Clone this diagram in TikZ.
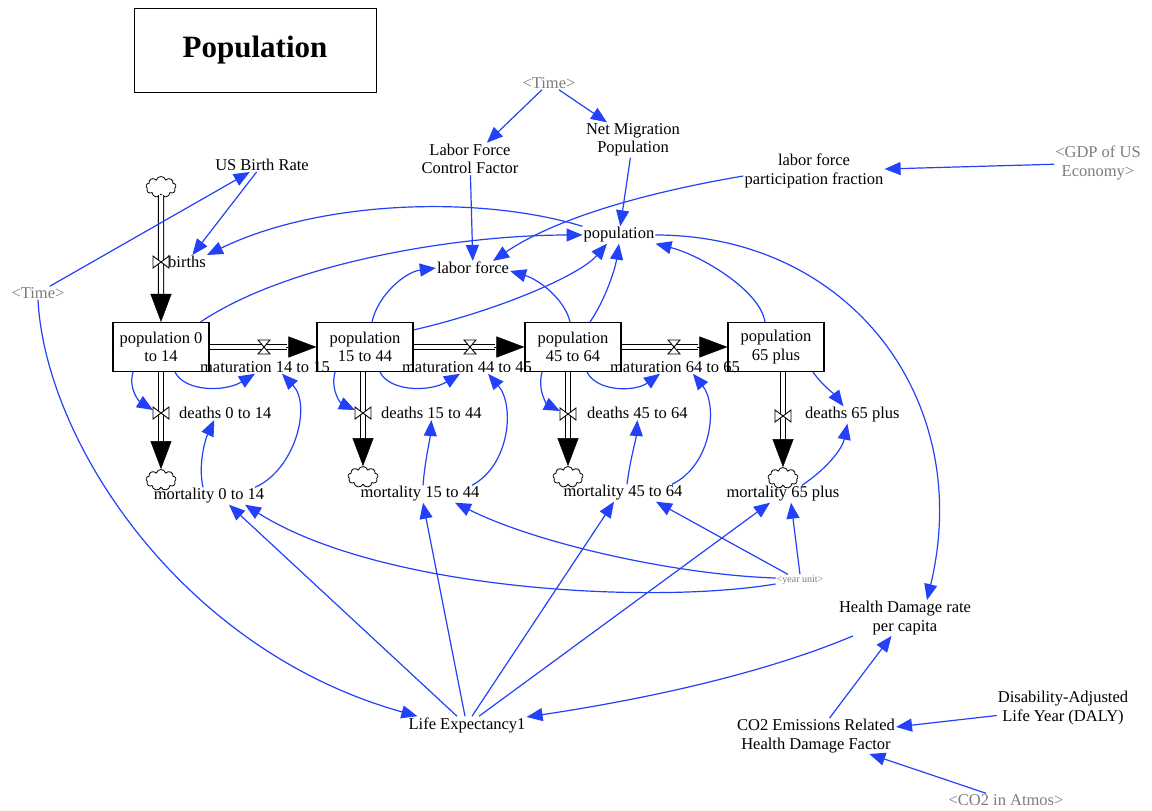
\documentclass[tikz,border=0pt]{standalone}
\usepackage{fontspec}
\setmainfont{Liberation Serif}
\usetikzlibrary{arrows.meta,shapes.symbols}
\definecolor{linkblue}{RGB}{35,65,248}
\definecolor{shadowtext}{RGB}{125,125,125}
\tikzset{
 lbl/.style={inner sep=1pt, font=\fontsize{16.5}{18.5}\selectfont, align=center, text=black},
 ghost/.style={lbl, text=shadowtext},
 stock/.style={draw=black, line width=1.1pt, fill=white, minimum width=96pt, minimum height=49pt, inner sep=1pt, font=\fontsize{16.5}{18.5}\selectfont, align=center},
 link/.style={draw=linkblue, line width=1.2pt, -{Triangle[length=16pt,width=13pt]}},
 pipe/.style={draw=black, line width=1.2pt, double=white, double distance=4pt},
 pipehead/.style={draw=black, line width=0.4pt, -{Triangle[length=28pt,width=21pt]}},
 sink/.style={cloud, draw=black, line width=0.8pt, cloud puffs=9, aspect=1.5, minimum width=30pt, minimum height=21pt, inner sep=0pt},
 hvalve/.pic={\filldraw[fill=white, draw=black, line width=0.9pt] (-6,-7) -- (6,-7) -- (-6,7) -- (6,7) -- cycle;},
 vvalve/.pic={\filldraw[fill=white, draw=black, line width=0.9pt] (-8,-6) -- (-8,6) -- (8,-6) -- (8,6) -- cycle;},
}
\begin{document}
\begin{tikzpicture}[x=1pt,y=-1pt]
\useasboundingbox[fill=white] (0,0) rectangle (1152,811);

% title
\node[draw=black, line width=1pt, minimum width=242pt, minimum height=84pt, inner sep=0pt, font=\fontsize{31}{36}\selectfont\bfseries] (title) at (255,50) {Population};

% auxiliaries
\node[ghost] (timeA) at (549,83) {<Time>};
\node[lbl] (lfcf) at (470,159) {Labor Force\\Control Factor};
\node[lbl] (nmp) at (633,140) {Net Migration\\Population};
\node[lbl] (lfpf) at (814,171) {labor force\\participation fraction};
\node[ghost] (gdp) at (1098,163) {<GDP of US\\Economy>};
\node[lbl] (usbr) at (262,165) {US Birth Rate};
\node[ghost] (timeB) at (38,293) {<Time>};
\node[lbl] (pop) at (619,235) {population};
\node[lbl] (lf) at (473,268) {labor force};

% stocks
\node[stock] (s1) at (161,347) {population 0\\to 14};
\node[stock] (s2) at (365,347) {population\\15 to 44};
\node[stock] (s3) at (573,347) {population\\45 to 64};
\node[stock] (s4) at (776,347) {population\\65 plus};

% clouds
\node[sink] (c0) at (161,187) {};
\node[sink] (c1) at (161,480) {};
\node[sink] (c2) at (363,477) {};
\node[sink] (c3) at (568,477) {};
\node[sink] (c4) at (783,478) {};

% flow labels
\node[lbl, anchor=west] (fb) at (167,262) {births};
\node[lbl] (f1) at (265,367) {maturation 14 to 15};
\node[lbl] (f2) at (467,367) {maturation 44 to 45};
\node[lbl] (f3) at (675,367) {maturation 64 to 65};
\node[lbl, anchor=west] (g1) at (178,413) {deaths 0 to 14};
\node[lbl, anchor=west] (g2) at (380,413) {deaths 15 to 44};
\node[lbl, anchor=west] (g3) at (586,413) {deaths 45 to 64};
\node[lbl, anchor=west] (g4) at (804,415) {deaths 65 plus};

% mortality etc
\node[lbl] (m1) at (209,496) {mortality 0 to 14};
\node[lbl] (m2) at (420,494) {mortality 15 to 44};
\node[lbl] (m3) at (623,493) {mortality 45 to 64};
\node[lbl] (m4) at (783,494) {mortality 65 plus};
\node[ghost, font=\fontsize{10}{12}\selectfont] (yu) at (800,580) {<year unit>};
\node[lbl] (hd) at (905,618) {Health Damage rate\\per capita};
\node[lbl] (co2) at (816,736) {CO2 Emissions Related\\Health Damage Factor};
\node[lbl] (daly) at (1063,708) {Disability-Adjusted\\Life Year (DALY)};
\node[ghost] (co2a) at (1006,800) {<CO2 in Atmos>};
\node[lbl] (le) at (467,725) {Life Expectancy1};

% pipes
\draw[pipe] (c0.south) -- ([yshift=27pt]s1.north);
\draw[pipehead] ([yshift=28pt]s1.north) -- (s1.north);
\draw[pipe] (s1.east) -- ([xshift=-29pt]s2.west);
\draw[pipehead] ([xshift=-30pt]s2.west) -- (s2.west);
\draw[pipe] (s2.east) -- ([xshift=-29pt]s3.west);
\draw[pipehead] ([xshift=-30pt]s3.west) -- (s3.west);
\draw[pipe] (s3.east) -- ([xshift=-29pt]s4.west);
\draw[pipehead] ([xshift=-30pt]s4.west) -- (s4.west);
\draw[pipe] (c1.north |- s1.south) -- ([yshift=27pt]c1.north);
\draw[pipehead] ([yshift=28pt]c1.north) -- (c1.north);
\draw[pipe] (c2.north |- s2.south) -- ([yshift=27pt]c2.north);
\draw[pipehead] ([yshift=28pt]c2.north) -- (c2.north);
\draw[pipe] (c3.north |- s3.south) -- ([yshift=27pt]c3.north);
\draw[pipehead] ([yshift=28pt]c3.north) -- (c3.north);
\draw[pipe] (c4.north |- s4.south) -- ([yshift=27pt]c4.north);
\draw[pipehead] ([yshift=28pt]c4.north) -- (c4.north);

% valves
\coordinate (vb) at (161,262);
\coordinate (v1) at (264,347);
\coordinate (v2) at (470,347);
\coordinate (v3) at (674,347);
\coordinate (vd1) at (161,413);
\coordinate (vd2) at (363,413);
\coordinate (vd3) at (568,414);
\coordinate (vd4) at (783,416);
\pic at (vb) {vvalve};
\pic at (v1) {hvalve};
\pic at (v2) {hvalve};
\pic at (v3) {hvalve};
\pic at (vd1) {vvalve};
\pic at (vd2) {vvalve};
\pic at (vd3) {vvalve};
\pic at (vd4) {vvalve};

% links top
\draw[link] (timeA) -- (lfcf);
\draw[link] (timeA) -- (nmp);
\draw[link] (lfcf) -- (lf);
\draw[link] (nmp) -- (pop);
\draw[link] ([yshift=-5pt]lfpf.west) .. controls (660,190) and (560,215) .. ([xshift=20pt]lf.north);
\draw[link] (gdp) -- (lfpf);
\draw[link] (usbr) -- (fb);
\draw[link] (timeB) -- (usbr);
\draw[link] (pop.north west) .. controls (480,195) and (320,200) .. (fb.north east);
\draw[link] ([xshift=-9pt]s1.north east) .. controls (290,262) and (460,235) .. (pop.west);
\draw[link] ([xshift=7pt]s2.north) .. controls (378,295) and (405,272) .. (lf.west);
\draw[link] ([xshift=-3pt]s3.north) .. controls (565,300) and (540,280) .. ([yshift=-3pt]lf.east);
\draw[link] ([yshift=-8pt]s2.north east) .. controls (500,310) and (580,275) .. ([xshift=-12pt]pop.south);
\draw[link] ([xshift=17pt]s3.north) .. controls (605,300) and (615,270) .. (pop.south);
\draw[link] ([xshift=-11pt]s4.north) .. controls (760,290) and (700,255) .. (pop.south east);
\draw[link] (pop.east) .. controls (850,235) and (975,400) .. ([xshift=22pt]hd.north);
\draw[link] (timeB.south) .. controls (45,440) and (180,650) .. ([xshift=10pt]le.north west);
\draw[link] ([xshift=-52pt]hd.south) .. controls (760,675) and (640,700) .. ([yshift=8pt]le.east);
\draw[link] (co2) -- (hd);
\draw[link] (daly) -- (co2);
\draw[link] (co2a) -- (co2);

% life expectancy and year unit
\draw[link] ([xshift=-10pt]le.north) -- ([xshift=20pt]m1.south);
\draw[link] ([xshift=-2pt]le.north) -- ([xshift=3pt]m2.south);
\draw[link] ([xshift=5pt]le.north) -- ([xshift=-9pt]m3.south);
\draw[link] ([xshift=12pt]le.north) -- ([xshift=-13pt]m4.south);
\draw[link] ([yshift=-4pt]yu.west) .. controls (650,605) and (380,590) .. ([xshift=36pt]m1.south);
\draw[link] ([yshift=2pt]yu.west) .. controls (680,575) and (540,545) .. ([xshift=35pt]m2.south);
\draw[link] ([xshift=-12pt]yu.north) -- ([xshift=33pt]m3.south);
\draw[link] (yu.north) -- ([xshift=8pt]m4.south);

% local loops
\draw[link] ([xshift=-28pt]s1.south) .. controls (128,390) and (140,402) .. ([xshift=-8pt,yshift=3pt]vd1);
\draw[link] ([xshift=14pt]s1.south) .. controls (185,392) and (225,392) .. ([xshift=-10pt]f1.south);
\draw[link] ([xshift=-6pt]m1.north) .. controls (198,465) and (205,440) .. ([xshift=-11pt]g1.south);
\draw[link] ([xshift=46pt]m1.north) .. controls (295,470) and (312,405) .. ([xshift=17pt]f1.south);

\draw[link] ([xshift=-30pt]s2.south) .. controls (330,392) and (342,404) .. ([xshift=-8pt,yshift=3pt]vd2);
\draw[link] ([xshift=15pt]s2.south) .. controls (390,392) and (430,392) .. ([xshift=-7pt]f2.south);
\draw[link] ([xshift=3pt]m2.north) .. controls (425,460) and (430,440) .. (g2.south);
\draw[link] ([xshift=52pt]m2.north) .. controls (510,465) and (515,405) .. ([xshift=21pt]f2.south);

\draw[link] ([xshift=-31pt]s3.south) .. controls (537,392) and (548,405) .. ([xshift=-8pt,yshift=3pt]vd3);
\draw[link] ([xshift=14pt]s3.south) .. controls (597,392) and (635,392) .. ([xshift=-15pt]f3.south);
\draw[link] ([xshift=4pt]m3.north) .. controls (630,460) and (636,440) .. (g3.south);
\draw[link] ([xshift=49pt]m3.north) .. controls (712,465) and (718,405) .. ([xshift=18pt]f3.south);

\draw[link] ([xshift=37pt]s4.south) .. controls (822,385) and (835,395) .. ([xshift=-9pt]g4.north);
\draw[link] ([xshift=19pt]m4.north) .. controls (825,470) and (842,450) .. ([xshift=-5pt]g4.south);
\end{tikzpicture}
\end{document}
